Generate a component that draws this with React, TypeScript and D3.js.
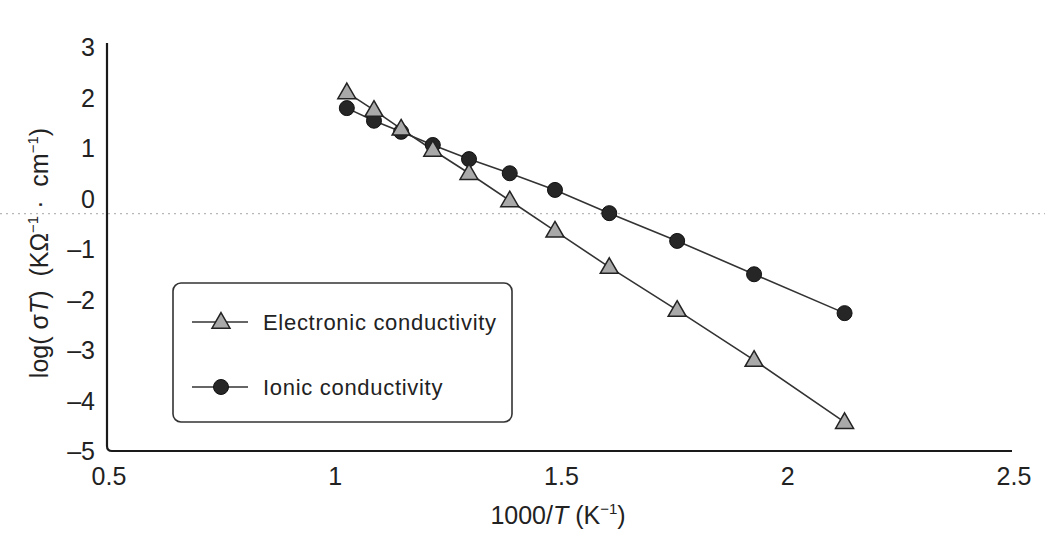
import React from "react";
import * as d3 from "d3";

// 1000/T (K^-1) for each measurement temperature
const invTemp = [1.03, 1.09, 1.15, 1.22, 1.30, 1.39, 1.49, 1.61, 1.76, 1.93, 2.13];
// log(σT) values
const electronic = [2.10, 1.75, 1.38, 0.96, 0.50, -0.04, -0.64, -1.36, -2.21, -3.20, -4.43];
const ionic = [1.79, 1.54, 1.32, 1.06, 0.78, 0.50, 0.17, -0.29, -0.84, -1.50, -2.27];

const xTicks = [0.5, 1, 1.5, 2, 2.5];
const xTickLabels = ["0.5", "1", "1.5", "2", "2.5"];
const yTicks = [3, 2, 1, 0, -1, -2, -3, -4, -5];
const yTickLabels = ["3", "2", "1", "0", "\u20131", "\u20132", "\u20133", "\u20134", "\u20135"];

const seriesNames = ["Electronic conductivity", "Ionic conductivity"];

const W = 1048;
const H = 534;
const FONT = "'Liberation Sans', Arial, Helvetica, sans-serif";

export default function App() {
  const x = d3.scaleLinear().domain([0.5, 2.5]).range([107, 1012]);
  const y = d3.scaleLinear().domain([-5, 3]).range([451, 47]);

  const line = d3
    .line<[number, number]>()
    .x((d) => x(d[0]))
    .y((d) => y(d[1]));

  const elecPts: [number, number][] = invTemp.map((t, i) => [t, electronic[i]]);
  const ionPts: [number, number][] = invTemp.map((t, i) => [t, ionic[i]]);

  const x0 = x(0.5);
  const x1 = x(2.5);
  const yb = y(-5);
  const yt = y(3) - 4;
  const r = 5;
  const axisPath = `M${x0},${yt} V${yb - r} Q${x0},${yb} ${x0 + r},${yb} H${x1}`;

  const tri = d3.symbol().type(d3.symbolTriangle).size(140)();

  // legend
  const lgX = 173;
  const lgY = 283;
  const lgW = 339;
  const lgH = 139;
  const rows = [lgY + 39, lgY + 104];

  return (
    <svg
      width={W}
      height={H}
      style={{ position: "absolute", left: 0, top: 0, background: "#fff" }}
      fontFamily={FONT}
    >
      <rect width={W} height={H} fill="#fff" />

      {/* faint dotted rule across the page */}
      <line
        x1={0}
        x2={1045}
        y1={y(-0.3)}
        y2={y(-0.3)}
        stroke="#b8b8b8"
        strokeWidth={1.2}
        strokeDasharray="2 4"
      />

      {/* axes */}
      <path d={axisPath} fill="none" stroke="#1a1a1a" strokeWidth={2.2} />

      {yTicks.map((v, i) => (
        <text
          key={"y" + v}
          x={95}
          y={y(v) + 9}
          textAnchor="end"
          fontSize={25}
          fill="#222"
        >
          {yTickLabels[i]}
        </text>
      ))}
      {xTicks.map((v, i) => (
        <text
          key={"x" + v}
          x={x(v) + 2}
          y={485}
          textAnchor="middle"
          fontSize={25}
          fill="#222"
        >
          {xTickLabels[i]}
        </text>
      ))}

      {/* axis titles */}
      <text x={558} y={524} textAnchor="middle" fontSize={25} fill="#222">
        1000/<tspan fontStyle="italic">T</tspan> (K
        <tspan fontSize={15} dy={-10}>
          −1
        </tspan>
        <tspan dy={10}>)</tspan>
      </text>
      <text
        transform={`translate(48,253) rotate(-90)`}
        textAnchor="middle"
        fontSize={25}
        fill="#222"
        xmlSpace="preserve"
      >
        log( σ<tspan fontStyle="italic">T</tspan>)  (KΩ
        <tspan fontSize={15} dy={-10}>
          −1
        </tspan>
        <tspan dy={10}> ·  cm</tspan>
        <tspan fontSize={15} dy={-10}>
          −1
        </tspan>
        <tspan dy={10}>)</tspan>
      </text>

      {/* series lines */}
      <path d={line(elecPts) || ""} fill="none" stroke="#333" strokeWidth={1.6} />
      <path d={line(ionPts) || ""} fill="none" stroke="#333" strokeWidth={1.6} />

      {/* markers */}
      {ionPts.map((p, i) => (
        <circle
          key={"c" + i}
          cx={x(p[0])}
          cy={y(p[1])}
          r={7.5}
          fill="#262626"
          stroke="#111"
          strokeWidth={1}
        />
      ))}
      {elecPts.map((p, i) => (
        <path
          key={"t" + i}
          d={tri || ""}
          transform={`translate(${x(p[0])},${y(p[1]) + 1})`}
          fill="#a9a9a9"
          stroke="#222"
          strokeWidth={1.5}
        />
      ))}

      {/* legend */}
      <rect
        x={lgX}
        y={lgY}
        width={lgW}
        height={lgH}
        rx={8}
        fill="#fff"
        stroke="#333"
        strokeWidth={1.6}
      />
      {seriesNames.map((name, i) => (
        <g key={name}>
          <line
            x1={192}
            x2={248}
            y1={rows[i]}
            y2={rows[i]}
            stroke="#333"
            strokeWidth={1.6}
          />
          {i === 0 ? (
            <path
              d={tri || ""}
              transform={`translate(221,${rows[i] + 1})`}
              fill="#a9a9a9"
              stroke="#222"
              strokeWidth={1.5}
            />
          ) : (
            <circle cx={221} cy={rows[i]} r={7.5} fill="#262626" stroke="#111" />
          )}
          <text
            x={263}
            y={rows[i] + 8}
            fontSize={22}
            fill="#222"
            letterSpacing={0.7}
          >
            {name}
          </text>
        </g>
      ))}
    </svg>
  );
}
